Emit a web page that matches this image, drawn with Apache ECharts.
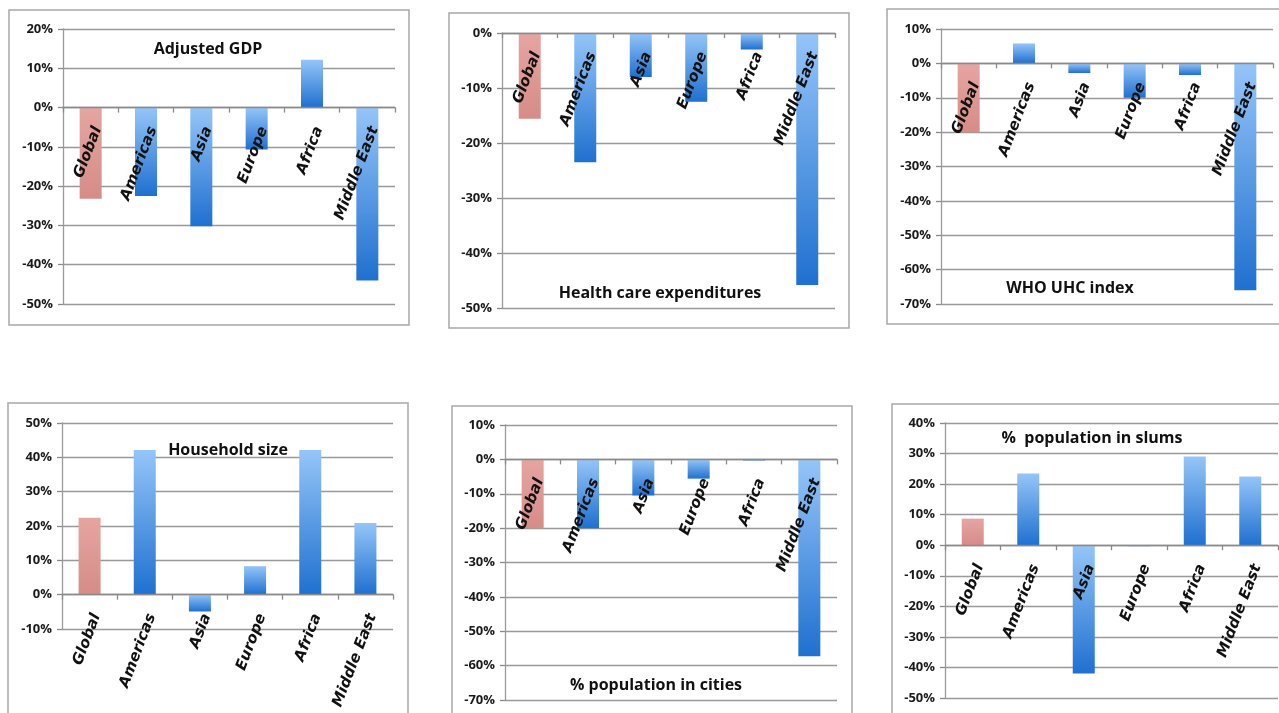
<!DOCTYPE html>
<html>
<head>
<meta charset="utf-8">
<script src="https://cdn.jsdelivr.net/npm/echarts@6/dist/echarts.min.js"></script>
<style>
html,body{margin:0;padding:0;background:#fff;}
#c{width:1279px;height:713px;}
</style>
</head>
<body>
<div id="c"></div>
<script>
const categories = ['Global', 'Americas', 'Asia', 'Europe', 'Africa', 'Middle East'];

const adjustedGdp   = [-23.2, -22.5, -30.2, -10.7, 12.2, -44.0];
const healthCare    = [-15.6, -23.5, -8.0, -12.5, -3.0, -45.8];
const whoUhc        = [-20.0, 5.8, -2.8, -10.0, -3.4, -66.0];
const householdSize = [22.4, 42.1, -4.9, 8.3, 42.1, 20.9];
const popCities     = [-20.0, -20.0, -10.5, -5.6, -0.3, -57.3];
const popSlums      = [8.7, 23.5, -42.0, -0.3, 29.0, 22.5];

const titles = ['Adjusted GDP', 'Health care expenditures', 'WHO UHC index',
                'Household size', '% population in cities', '%  population in slums'];
const seriesData = [adjustedGdp, healthCare, whoUhc, householdSize, popCities, popSlums];
const yRanges = [[-50, 20], [-50, 0], [-70, 10], [-10, 50], [-70, 10], [-50, 40]];

// layout (pixels)
const grids = [
  {left: 63,  top: 29,  width: 332, height: 275},
  {left: 502, top: 33,  width: 333, height: 275},
  {left: 941, top: 29,  width: 332, height: 275},
  {left: 62,  top: 423, width: 331, height: 206},
  {left: 505, top: 425, width: 332, height: 275},
  {left: 945, top: 423, width: 333, height: 275}
];
const frames = [
  [9, 10, 400, 315], [449, 13, 400, 315], [887, 9, 420, 315],
  [8, 403, 400, 340], [452, 406, 400, 340], [892, 404, 420, 340]
];
const titlePos = [[208, 49], [660, 293], [1070, 288], [228, 450], [656, 685], [1092, 438]];

const blueGrad = {type: 'linear', x: 0, y: 0, x2: 0, y2: 1,
  colorStops: [{offset: 0, color: '#95c5f8'}, {offset: 1, color: '#1f70d0'}]};
const redGrad = {type: 'linear', x: 0, y: 0, x2: 0, y2: 1,
  colorStops: [{offset: 0, color: '#e5a5a1'}, {offset: 1, color: '#d68c88'}]};

const option = {
  animation: false,
  backgroundColor: '#fff',
  grid: grids.map(g => Object.assign({containLabel: false}, g)),
  xAxis: grids.map((g, i) => ({
    type: 'category', gridIndex: i, data: categories, position: 'bottom', z: 6,
    // place the whole axis (line, ticks, labels) on the zero value line
    offset: -g.height * (0 - yRanges[i][0]) / (yRanges[i][1] - yRanges[i][0]),
    axisLine: {onZero: false, lineStyle: {color: '#8a8a8a', width: 1.3}},
    axisTick: {show: true, length: 5, lineStyle: {color: '#8a8a8a', width: 1.3}},
    axisLabel: {
      rotate: 69, margin: 17, interval: 0, verticalAlign: 'top',
      fontFamily: 'DejaVu Sans', fontWeight: 'bold', fontStyle: 'italic',
      fontSize: 15, color: '#111'
    },
    splitLine: {show: false}
  })),
  yAxis: grids.map((g, i) => ({
    type: 'value', gridIndex: i, min: yRanges[i][0], max: yRanges[i][1], interval: 10,
    axisLine: {show: true, lineStyle: {color: '#9a9a9a', width: 1.3}},
    axisTick: {show: true, length: 5, lineStyle: {color: '#8a8a8a', width: 1.3}},
    axisLabel: {formatter: '{value}%', fontFamily: 'Open Sans', fontWeight: 'bold',
      fontSize: 13, color: '#1a1a1a', margin: 10},
    splitLine: {show: true, lineStyle: {color: '#999', width: 1.3}}
  })),
  series: seriesData.map((d, i) => ({
    type: 'bar', xAxisIndex: i, yAxisIndex: i, barWidth: 22, z: 2,
    data: d.map((v, j) => ({value: v, itemStyle: {color: j === 0 ? redGrad : blueGrad}}))
  })),
  graphic: [
    ...frames.map(f => ({type: 'rect', shape: {x: f[0], y: f[1], width: f[2], height: f[3]},
      style: {fill: null, stroke: '#a8a8a8', lineWidth: 1.5}, silent: true, z: -1})),
    ...titles.map((t, i) => ({type: 'text', x: titlePos[i][0], y: titlePos[i][1], z: 10,
      style: {text: t, fontFamily: 'Open Sans', fontWeight: 'bold', fontSize: 16, fill: '#111',
        align: 'center', verticalAlign: 'middle'}}))
  ]
};

const chart = echarts.init(document.getElementById('c'), null, {renderer: 'canvas'});
chart.setOption(option);
</script>
</body>
</html>
